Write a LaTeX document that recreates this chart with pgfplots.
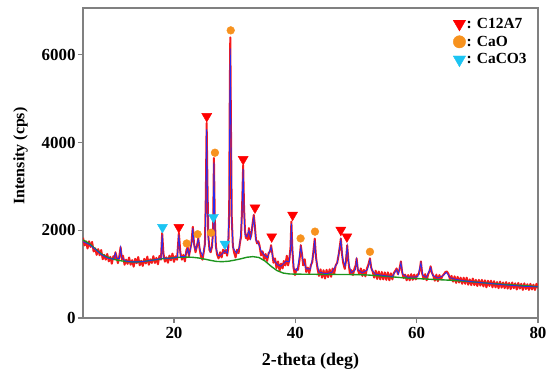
\documentclass[border=0pt]{standalone}
\usepackage{pgfplots}
\usepackage{pgfplotstable}
\pgfplotsset{compat=1.18}
\usepackage{fontspec}
\setmainfont{Liberation Serif}
\definecolor{rawred}{HTML}{F51B1B}
\definecolor{fitblue}{HTML}{2A2AF0}
\definecolor{bggreen}{HTML}{1E951E}
\definecolor{mkred}{HTML}{FF0000}
\definecolor{mkorange}{HTML}{F7921E}
\definecolor{mkcyan}{HTML}{1CC4F2}
\definecolor{axgray}{HTML}{808080}

\pgfplotstableread{
x y
5.00 1830
5.25 1655
5.50 1750
5.75 1585
6.00 1750
6.25 1620
6.50 1735
6.75 1518
7.00 1590
7.25 1440
7.50 1570
7.75 1430
8.00 1550
8.25 1340
8.50 1440
8.75 1330
9.00 1460
9.25 1292
9.50 1395
9.75 1238
10.00 1410
10.20 1350
10.35 1500
10.50 1420
10.75 1250
11.00 1420
11.20 1620
11.40 1340
11.60 1420
11.85 1215
12.10 1330
12.35 1235
12.60 1380
12.85 1215
13.10 1320
13.35 1170
13.60 1350
13.85 1250
14.10 1390
14.35 1202
14.60 1305
14.85 1188
15.10 1350
15.35 1245
15.60 1400
15.85 1215
16.10 1340
16.35 1255
16.60 1410
16.85 1255
17.10 1370
17.35 1225
17.60 1415
17.85 1330
18.05 1940
18.25 1480
18.50 1285
18.75 1382
19.00 1260
19.25 1422
19.50 1315
19.75 1468
20.00 1280
20.25 1408
20.50 1328
20.80 1940
21.05 1490
21.30 1330
21.55 1440
21.80 1290
22.05 1550
22.25 1620
22.45 1410
22.70 1580
22.90 1750
23.10 2080
23.30 1700
23.55 1500
23.80 1650
24.00 1820
24.20 1600
24.45 1400
24.70 1330
24.90 1500
25.10 1700
25.25 2800
25.38 4450
25.50 3200
25.65 1900
25.85 1550
26.05 1500
26.25 1620
26.45 2000
26.58 3650
26.72 2300
26.90 1650
27.10 1450
27.35 1360
27.60 1500
27.85 1380
28.10 1560
28.35 1480
28.55 1560
28.75 1420
28.95 1600
29.10 2500
29.20 5200
29.28 6400
29.38 4500
29.52 2300
29.70 1650
29.90 1500
30.15 1380
30.40 1560
30.65 1480
30.85 1700
31.05 1850
31.22 2500
31.40 3480
31.55 2500
31.70 2000
31.85 1820
32.00 1900
32.15 1780
32.35 2050
32.55 1800
32.75 1900
32.95 2150
33.15 2350
33.30 2150
33.50 1800
33.70 1700
33.90 1750
34.10 1650
34.35 1430
34.60 1520
34.85 1340
35.10 1460
35.35 1300
35.60 1480
35.85 1520
36.00 1660
36.20 1480
36.40 1260
36.65 1360
36.90 1140
37.15 1290
37.40 1080
37.65 1240
37.90 1130
38.10 1300
38.35 1200
38.60 1420
38.80 1200
39.00 1320
39.20 1600
39.35 2200
39.50 1600
39.70 1150
39.95 980
40.20 1120
40.45 1100
40.70 1330
40.90 1660
41.10 1450
41.30 1200
41.55 1340
41.80 1050
42.05 1150
42.30 1020
42.55 1200
42.80 1280
43.00 1550
43.20 1810
43.40 1400
43.65 1130
43.90 960
44.15 1110
44.40 920
44.65 1090
44.90 900
45.15 1100
45.40 930
45.65 1110
45.90 940
46.15 1130
46.40 1010
46.65 1200
46.90 1260
47.15 1450
47.35 1650
47.50 1810
47.70 1450
47.90 1250
48.15 1120
48.35 1300
48.55 1660
48.75 1300
49.00 1000
49.25 1090
49.50 980
49.75 1130
49.95 1200
50.10 1360
50.30 1100
50.55 1000
50.80 1130
51.05 960
51.30 1100
51.55 950
51.80 1130
52.05 1220
52.30 1360
52.50 1150
52.75 1060
53.00 920
53.25 1080
53.50 890
53.75 1060
54.00 880
54.25 1050
54.50 880
54.75 1040
55.00 870
55.25 1040
55.50 860
55.75 1020
56.00 880
56.25 1030
56.50 1080
56.70 1130
56.90 1000
57.15 1100
57.40 1290
57.60 1050
57.85 910
58.10 990
58.35 860
58.60 980
58.85 860
59.10 1000
59.35 870
59.60 990
59.85 880
60.10 990
60.35 1000
60.55 1130
60.70 1290
60.90 1020
61.15 890
61.40 1000
61.65 860
61.90 1000
62.10 1060
62.30 1180
62.50 1040
62.75 960
63.00 850
63.25 990
63.50 840
63.75 980
64.00 880
64.25 960
64.50 1000
64.75 1050
65.00 1060
65.25 1000
65.50 880
65.75 960
66.00 830
66.25 950
66.50 800
66.75 940
67.00 810
67.25 920
67.50 780
67.75 920
68.00 780
68.25 920
68.50 760
68.75 880
69.00 750
69.25 900
69.50 750
69.75 870
70.00 730
70.25 870
70.50 740
70.75 870
71.00 720
71.25 860
71.50 700
71.75 850
72.00 730
72.25 850
72.50 700
72.75 840
73.00 700
73.25 820
73.50 680
73.75 830
74.00 690
74.25 810
74.50 680
74.75 820
75.00 670
75.25 800
75.50 660
75.75 810
76.00 680
76.25 790
76.50 650
76.75 800
77.00 670
77.25 780
77.50 640
77.75 790
78.00 660
78.25 770
78.50 640
78.75 780
79.00 650
79.25 760
79.50 640
79.75 780
80.00 680
}\rawdata

\pgfplotstableread{
x y
5 1740
6 1680
7 1570
8 1450
9 1370
10 1340
10.35 1480
10.6 1360
11.0 1360
11.2 1600
11.4 1380
12 1300
13 1280
14 1280
15 1290
16 1310
17 1330
17.85 1360
18.05 1900
18.25 1370
19 1360
20 1370
20.55 1390
20.8 1900
21.05 1400
21.8 1400
22.25 1580
22.5 1440
22.9 1700
23.1 2050
23.3 1650
23.6 1560
24.0 1800
24.3 1550
24.7 1420
25.1 1650
25.25 2600
25.38 4300
25.5 3000
25.65 1800
25.95 1520
26.3 1650
26.45 1950
26.58 3550
26.72 2200
26.9 1600
27.3 1420
27.8 1440
28.35 1530
28.8 1480
29.1 2400
29.2 5000
29.28 6150
29.38 4400
29.52 2200
29.75 1600
30.3 1480
30.8 1620
31.2 2300
31.4 3400
31.55 2400
31.7 1900
32.0 1850
32.35 2000
32.6 1820
33.15 2300
33.5 1780
33.9 1700
34.4 1520
35.0 1420
35.4 1380
36.0 1620
36.3 1360
37.0 1220
37.6 1180
38.5 1300
39.0 1280
39.2 1550
39.35 2150
39.5 1550
39.8 1120
40.3 1080
40.9 1620
41.2 1350
41.8 1120
42.5 1120
43.0 1500
43.2 1780
43.4 1350
43.9 1050
45 1010
46 1040
46.9 1250
47.5 1780
47.8 1350
48.2 1180
48.55 1620
48.8 1250
49.2 1030
49.9 1100
50.1 1330
50.35 1100
51 1030
51.9 1100
52.3 1330
52.6 1100
53.2 1000
55 960
56 950
56.7 1100
57.0 1000
57.4 1260
57.7 1000
58.5 930
60.2 940
60.7 1260
61.0 980
61.6 930
62.3 1150
62.6 980
63.5 910
64.3 960
64.9 1040
65.5 920
66.5 880
68 845
70 815
72 790
74 760
76 740
78 720
80 710
}\fitdata

\pgfplotstableread{
x y
5 1780
6 1700
7 1580
8 1460
9 1390
10 1340
11 1310
12 1290
13 1280
14 1280
15 1290
16 1310
17 1330
18 1350
19 1360
20 1375
21 1385
22 1390
23 1385
24 1370
25 1345
26 1315
27 1290
28 1285
29 1295
30 1320
31 1350
32 1385
33 1400
34 1380
35 1300
36 1180
37 1080
38 1025
39 1005
40 1000
42 998
45 995
50 990
52 980
55 950
58 915
60 900
62 885
65 865
68 840
70 815
72 790
75 760
78 735
80 715
}\bgdata

\pgfplotstableread{
x y
20.8 2070
25.4 4600
31.4 3620
33.35 2515
36.1 1855
39.55 2350
47.5 2005
48.5 1855
}\cAseven

\pgfplotstableread{
x y
22.1 1700
23.9 1910
26.1 1945
26.75 3770
29.35 6560
40.87 1815
43.24 1970
52.3 1510
}\caoph

\pgfplotstableread{
x y
18.1 2070
26.5 2300
28.4 1690
}\cacoph

\begin{document}
\begin{tikzpicture}
\useasboundingbox (-83bp,-58bp) rectangle (467bp,318bp);
\begin{axis}[
  at={(0,0)}, anchor=south west,
  width=455bp, height=310bp, scale only axis,
  xmin=5, xmax=80, ymin=0, ymax=7070,
  xtick={20,40,60,80}, ytick={0,2000,4000,6000},
  xticklabels={20,40,60,80}, yticklabels={0,2000,4000,6000},
  tick align=outside, tick pos=left,
  major tick length=5bp,
  axis line style={axgray, line width=1.1pt},
  every tick/.style={axgray, line width=1.1pt},
  tick label style={font=\fontsize{17}{20}\selectfont\bfseries},
  yticklabel style={xshift=1bp},
  xticklabel style={yshift=-1bp},
  xlabel={2-theta (deg)},
  ylabel={Intensity (cps)},
  xlabel style={font=\fontsize{18}{21}\selectfont\bfseries, yshift=-7bp},
  ylabel style={font=\fontsize{16}{19}\selectfont\bfseries, xshift=7bp, yshift=7bp},
  legend style={at={(0.98,0.975)}, anchor=north east, draw=none, fill=none,
    font=\fontsize{15.5}{18}\selectfont\bfseries, row sep=4bp,
    inner sep=1pt, nodes={inner sep=1pt}},
  legend cell align=left,
  legend image code/.code={\draw[#1] plot coordinates {(0.2cm,0cm)};},
  clip=true,
]
\addplot[rawred, line width=2pt, line join=round, forget plot] table {\rawdata};
\addplot[bggreen, line width=1.4pt, forget plot] table {\bgdata};
\addplot[fitblue, line width=0.8pt, forget plot] table {\fitdata};
\addplot[only marks, mark=triangle*, mark size=5.8pt, mark options={rotate=180, fill=mkred, draw=mkred}, forget plot] table {\cAseven};
\addplot[only marks, mark=*, mark size=3.9pt, mark options={fill=mkorange, draw=mkorange}, forget plot] table {\caoph};
\addplot[only marks, mark=triangle*, mark size=5.8pt, mark options={rotate=180, fill=mkcyan, draw=mkcyan}, forget plot] table {\cacoph};
\addlegendimage{only marks, mark=triangle*, mark size=7.2pt, mark options={rotate=180, fill=mkred, draw=mkred}}
\addlegendentry{: C12A7}
\addlegendimage{only marks, mark=*, mark size=6.2pt, mark options={fill=mkorange, draw=mkorange}}
\addlegendentry{: CaO}
\addlegendimage{only marks, mark=triangle*, mark size=7.2pt, mark options={rotate=180, fill=mkcyan, draw=mkcyan}}
\addlegendentry{: CaCO3}
\end{axis}
\end{tikzpicture}
\end{document}
